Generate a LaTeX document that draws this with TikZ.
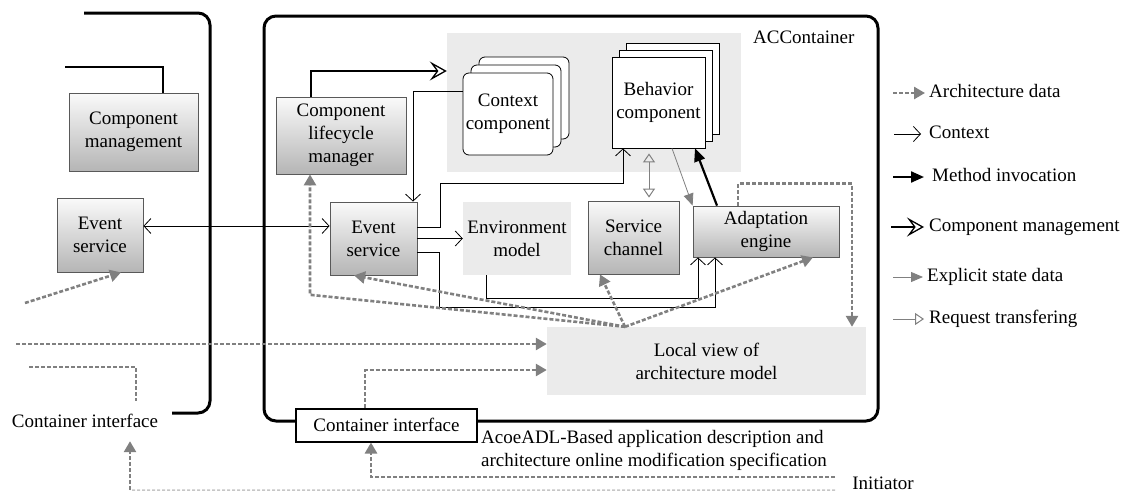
\documentclass[tikz,border=0pt]{standalone}
\usepackage{fontspec}
\setmainfont{Liberation Serif}
\usetikzlibrary{arrows.meta, positioning}
\tikzset{
x=1pt, y=-1pt, % one unit per pixel, y grows downwards
wall/.style={line width=3pt, rounded corners=12}, % container outlines
unit/.style={draw=gray!70!black, line width=0.8pt, top color=gray!4, bottom color=gray!58, align=center, inner sep=1pt}, % shaded boxes
flat/.style={fill=gray!16, align=center, inner sep=1pt}, % plain gray boxes
card/.style={draw, line width=0.8pt, fill=white, align=center, inner sep=1pt}, % stacked components
keytext/.style={anchor=west, inner sep=0, text height=13pt, text depth=4pt}, % legend labels
ctxtip/.tip={Straight Barb[length=7pt,width=15pt]},
reqtip/.tip={Triangle[open,length=9pt,width=12pt]},
archdata/.style={color=gray, line width=2.6pt, dash pattern=on 4pt off 2pt, -{Triangle[length=11pt,width=12pt]}}, % architecture data
archfaint/.style={color=gray!45, line width=1.5pt, dash pattern=on 3pt off 2pt}, % faint request line
ctxflow/.style={line width=0.8pt, -ctxtip}, % context
invoke/.style={line width=2.2pt, -{Triangle[length=13pt,width=11pt]}}, % method invocation
manage/.style={line width=2.2pt, -{Stealth[open,length=17pt,width=19pt,inset=7pt,line width=1.3pt]}}, % component management
statedata/.style={color=gray, line width=0.8pt, -{Triangle[length=12pt,width=10pt]}}, % explicit state data
request/.style={color=gray, line width=1pt, -reqtip}, % request transfering
}

\begin{document}
\begin{tikzpicture}[font=\fontsize{19}{23}\selectfont]
\useasboundingbox (0,0) rectangle (1129,493);

% neighbour container, cut off on the left
\draw[wall] (84,13) -- (210,13) -- (210,413) -- (172,413);
\node[unit, minimum width=129, minimum height=78] (cm) at (133.5,132) {Component\\management};
\draw[line width=2pt] (65,67) -| ([xshift=29.5]cm.north);
\node[unit, minimum width=86, minimum height=74] (esl) at (100,235) {Event\\service};
\node[minimum height=40, inner sep=0] (cil) at (85,421) {Container interface};

% ACContainer
\node[flat, minimum width=294, minimum height=139] (pool) at (594,102.5) {};
\draw[wall] (264,16) rectangle (878,421);
\node[anchor=east] (acc) at (858,37) {ACContainer};

\node[card, rounded corners=6, minimum width=90, minimum height=82] (ctx3) at (524,98) {};
\node[card, rounded corners=6, minimum width=90, minimum height=82] (ctx2) at ([shift={(-8,8)}]ctx3) {};
\node[card, rounded corners=6, minimum width=90, minimum height=82] (ctx1) at ([shift={(-8,8)}]ctx2) {Context\\component};
\node[card, minimum width=93, minimum height=91] (beh3) at (672.5,88.5) {};
\node[card, minimum width=93, minimum height=91] (beh2) at ([shift={(-7,7)}]beh3) {};
\node[card, minimum width=93, minimum height=91] (beh1) at ([shift={(-7,7)}]beh2) {Behavior\\component};

\node[unit, minimum width=130, minimum height=77] (clm) at (341,135.5) {Component\\lifecycle\\manager};
\node[unit, minimum width=87, minimum height=73] (esr) at (373.5,238.5) {Event\\service};
\node[flat, minimum width=108, minimum height=73] (env) at (517,238.5) {Environment\\model};
\node[unit, minimum width=91, minimum height=73] (sc) at (633.5,237.5) {Service\\channel};
\node[unit, minimum width=146, minimum height=51] (ae) at (766,231.5) {Adaptation\\engine};
\node[flat, minimum width=319, minimum height=68] (lv) at (706.5,361) {Local view of\\architecture model};
\node[draw, line width=2pt, fill=white, minimum width=181, minimum height=33] (ci) at (386.5,425) {Container interface};

\node[anchor=west, align=left, inner sep=0] (spec) at (481,450) {AcoeADL-Based application description and\\architecture online modification specification};
\node[inner sep=0] (init) at (883,483) {Initiator};

% context flows
\draw[ctxflow, ctxtip-ctxtip] ([yshift=12.5]esr.west) -- ([yshift=12.5]esr.west -| esl.east);
\draw[ctxflow] ([yshift=23]ctx1.west) -| ([xshift=39.5]esr.north);
\draw[ctxflow] ([yshift=11.5]esr.east) -| ++(23,-44) -| ([xshift=-35.5]beh1.south);
\draw[ctxflow] (esr.east) -- (env.west);
\draw[ctxflow] ([yshift=-13.5]esr.east) -| ++(22,55) -| ([xshift=-51]ae.south);
\draw[ctxflow] ([xshift=-31]env.south) -- ++(0,23) -| ([xshift=-68]ae.south);

% management, invocation, state
\draw[manage] ([xshift=-30]clm.north) |- ([yshift=31.5]pool.west);
\draw[request, reqtip-reqtip] ([xshift=-9.5,yshift=-5]beh1.south) -- ([xshift=15.5,yshift=3]sc.north);
\draw[statedata] ([xshift=13.5]beh1.south) -- (ae.north west);
\draw[invoke] ([xshift=-49]ae.north) -- ([xshift=36.5]beh1.south);

% architecture data
\draw[archdata] ([xshift=-28]ae.north) -- ++(0,-22) -| ([xshift=145.5]lv.north);
\coordinate (hub) at ([xshift=-81.5]lv.north);
\draw[archdata] (hub) -- ([xshift=-33.5]sc.south);
\draw[archdata] (hub) -- ([xshift=47]ae.south);
\draw[archdata] (hub) -- ([xshift=-19.5]esr.south);
\draw[archdata] (hub) -- ++(-315,-32) -- ([xshift=-31]clm.south);
\coordinate (outer) at (16,344);
\draw[archdata] (outer) -- (outer -| lv.west);
\draw[archdata] ([xshift=-21.5]ci.north) |- ([yshift=-9]lv.west);
\coordinate (feed) at (29,367);
\draw[archdata, -] (feed) -| ([xshift=51]cil.north);
\coordinate (leftin) at (25,303);
\draw[archdata] (leftin) -- ([xshift=21]esl.south);
\draw[archdata] ([xshift=-17,yshift=6]init.west) -| ([xshift=-15.5]ci.south);
\draw[archfaint] ([xshift=-17,yshift=-7]init.west) -- ([xshift=45,yshift=-49]cil.south);
\draw[archdata] ([xshift=45,yshift=-49]cil.south) -- ([xshift=45]cil.south);

% legend
\node[keytext] (k1) at (929,93) {Architecture data};
\draw[archdata] ([xshift=-36]k1.west) -- ([xshift=-4]k1.west);
\node[keytext] (k2) at (929,134) {Context};
\draw[ctxflow] ([xshift=-35]k2.west) -- ([xshift=-8]k2.west);
\node[keytext] (k3) at (932,177) {Method invocation};
\draw[invoke] ([xshift=-39]k3.west) -- ([xshift=-8]k3.west);
\node[keytext] (k4) at (929,227) {Component management};
\draw[manage] ([xshift=-38]k4.west) -- ([xshift=-5]k4.west);
\node[keytext] (k5) at (927,277) {Explicit state data};
\draw[statedata] ([xshift=-34]k5.west) -- ([xshift=-4]k5.west);
\node[keytext] (k6) at (929,319) {Request transfering};
\draw[request] ([xshift=-36]k6.west) -- ([xshift=-5]k6.west);
\end{tikzpicture}
\end{document}
